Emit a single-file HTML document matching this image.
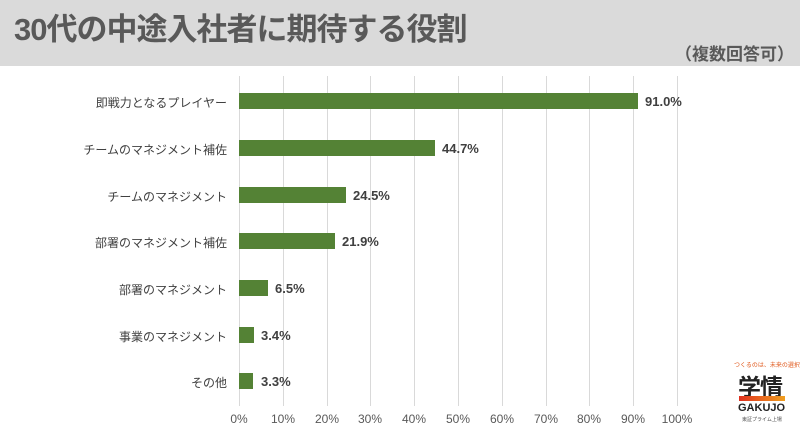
<!DOCTYPE html>
<html><head><meta charset="utf-8"><style>
body{margin:0;width:800px;height:429px;background:#fff;overflow:hidden;font-family:"Liberation Sans","Noto Sans CJK JP",sans-serif;position:relative}
.hd{position:absolute;left:0;top:0;width:800px;height:66px;background:#dadada}
.t{position:absolute;left:14px;top:4px;font-size:31px;font-weight:bold;color:#595959;letter-spacing:-1px}
.s{position:absolute;right:6px;top:40px;font-size:17px;font-weight:bold;color:#595959}
.g{position:absolute;top:76px;height:330px;width:1px;background:#d9d9d9}
.b{position:absolute;left:239px;height:16px;background:#548235}
.v{position:absolute;font-size:13px;font-weight:bold;color:#404040}
.l{position:absolute;right:573px;font-size:12px;color:#404040;white-space:nowrap}
.x{position:absolute;top:412px;font-size:12px;color:#595959;width:40px;text-align:center}
</style></head><body>
<div class="hd"><div class="t">30代の中途入社者に期待する役割</div><div class="s">（複数回答可）</div></div>
<div class="g" style="left:239px"></div><div class="g" style="left:283px"></div><div class="g" style="left:327px"></div><div class="g" style="left:370px"></div><div class="g" style="left:414px"></div><div class="g" style="left:458px"></div><div class="g" style="left:502px"></div><div class="g" style="left:546px"></div><div class="g" style="left:589px"></div><div class="g" style="left:633px"></div><div class="g" style="left:677px"></div>
<div class="b" style="top:93px;width:399px"></div><div class="v" style="left:645px;top:94px">91.0%</div><div class="l" style="top:94px">即戦力となるプレイヤー</div>
<div class="b" style="top:140px;width:196px"></div><div class="v" style="left:442px;top:141px">44.7%</div><div class="l" style="top:141px">チームのマネジメント補佐</div>
<div class="b" style="top:187px;width:107px"></div><div class="v" style="left:353px;top:188px">24.5%</div><div class="l" style="top:188px">チームのマネジメント</div>
<div class="b" style="top:233px;width:96px"></div><div class="v" style="left:342px;top:234px">21.9%</div><div class="l" style="top:234px">部署のマネジメント補佐</div>
<div class="b" style="top:280px;width:29px"></div><div class="v" style="left:275px;top:281px">6.5%</div><div class="l" style="top:281px">部署のマネジメント</div>
<div class="b" style="top:327px;width:15px"></div><div class="v" style="left:261px;top:328px">3.4%</div><div class="l" style="top:328px">事業のマネジメント</div>
<div class="b" style="top:373px;width:14px"></div><div class="v" style="left:261px;top:374px">3.3%</div><div class="l" style="top:374px">その他</div>
<div class="x" style="left:219px">0%</div><div class="x" style="left:263px">10%</div><div class="x" style="left:307px">20%</div><div class="x" style="left:350px">30%</div><div class="x" style="left:394px">40%</div><div class="x" style="left:438px">50%</div><div class="x" style="left:482px">60%</div><div class="x" style="left:526px">70%</div><div class="x" style="left:569px">80%</div><div class="x" style="left:613px">90%</div><div class="x" style="left:657px">100%</div>
<div style="position:absolute;left:734px;top:360px;font-size:6px;color:#e05a1e;white-space:nowrap">つくるのは、未来の選択肢</div>
<div style="position:absolute;left:738px;top:368px;font-size:23px;font-weight:bold;color:#222;letter-spacing:-1px">学情</div>
<div style="position:absolute;left:739px;top:396px;width:46px;height:5px;background:linear-gradient(90deg,#e0301e,#f0a020)"></div>
<div style="position:absolute;left:738px;top:402px;font-size:11px;font-weight:bold;color:#222">GAKUJO</div>
<div style="position:absolute;left:742px;top:416px;font-size:5px;color:#555">東証プライム上場</div>
</body></html>
